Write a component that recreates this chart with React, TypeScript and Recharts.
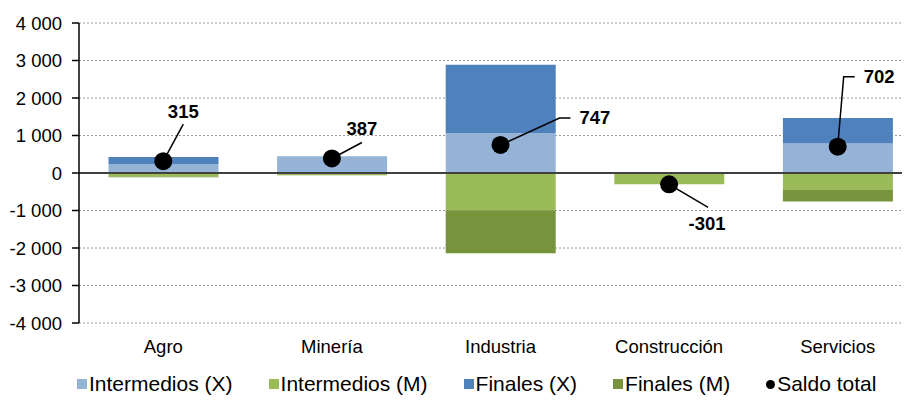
import React from 'react';
import {
  ComposedChart,
  Bar,
  Line,
  XAxis,
  YAxis,
  CartesianGrid,
  ReferenceLine,
  Legend,
  LabelList,
} from 'recharts';

const categories = ['Agro', 'Minería', 'Industria', 'Construcción', 'Servicios'];
const intermediosX = [240, 450, 1060, 0, 790];
const finalesX = [190, 0, 1830, 0, 675];
const intermediosM = [-95, -50, -990, -300, -455];
const finalesM = [-20, -13, -1150, -1, -308];
const saldoTotal = [315, 387, 747, -301, 702];
const yTicks = [-4000, -3000, -2000, -1000, 0, 1000, 2000, 3000, 4000];

const data = categories.map((name, i) => ({
  name,
  intX: intermediosX[i],
  finX: finalesX[i],
  intM: intermediosM[i],
  finM: finalesM[i],
  saldo: saldoTotal[i],
}));

const COLORS = {
  intX: '#95B3D7',
  intM: '#9BBB59',
  finX: '#4F81BD',
  finM: '#77933C',
};

// leader line / label placement relative to each dot
const leaders: { pts: [number, number][]; tx: number; ty: number; anchor: 'start' | 'middle' }[] = [
  { pts: [[20, -37]], tx: 20, ty: -50, anchor: 'middle' },
  { pts: [[30, -16]], tx: 30, ty: -30, anchor: 'middle' },
  { pts: [[59, -27], [70, -27]], tx: 79, ty: -27, anchor: 'start' },
  { pts: [[39, 23]], tx: 38, ty: 39, anchor: 'middle' },
  { pts: [[6, -70], [17, -70]], tx: 26, ty: -70, anchor: 'start' },
];

const fmt = (v: number) => {
  const s = Math.abs(v).toString().replace(/\B(?=(\d{3})+(?!\d))/g, ' ');
  return v < 0 ? '-' + s : s;
};

function SaldoLabel(props: any) {
  const { x, y, value, index } = props;
  const l = leaders[index];
  if (!l) return null;
  const path = [[0, 0], ...l.pts].map((p, k) => `${k ? 'L' : 'M'}${x + p[0]},${y + p[1]}`).join(' ');
  return (
    <g>
      <path d={path} stroke="#000" strokeWidth={1.5} fill="none" />
      <circle cx={x} cy={y} r={9} fill="#000" />
      <text
        x={x + l.tx}
        y={y + l.ty}
        dy="0.35em"
        textAnchor={l.anchor}
        fontSize={18.5}
        fontWeight="bold"
        fill="#000"
      >
        {fmt(value)}
      </text>
    </g>
  );
}

const legendItems = [
  { label: 'Intermedios (X)', color: COLORS.intX },
  { label: 'Intermedios (M)', color: COLORS.intM },
  { label: 'Finales (X)', color: COLORS.finX },
  { label: 'Finales (M)', color: COLORS.finM },
  { label: 'Saldo total', color: '#000', dot: true },
];

function CustomLegend() {
  return (
    <div style={{ display: 'flex', paddingLeft: 77, paddingTop: 9, fontSize: 21, color: '#000', lineHeight: '24px' }}>
      {legendItems.map((it) => (
        <div key={it.label} style={{ display: 'flex', alignItems: 'center', marginRight: 36 }}>
          <span
            style={{
              display: 'inline-block',
              width: it.dot ? 9 : 10,
              height: it.dot ? 9 : 10,
              borderRadius: it.dot ? '50%' : 0,
              background: it.color,
              marginRight: 2,
            }}
          />
          <span>{it.label}</span>
        </div>
      ))}
    </div>
  );
}

export default function App() {
  return (
    <div style={{ margin: -8, width: 910, height: 403, overflow: 'hidden', fontFamily: 'Arial, "Liberation Sans", sans-serif', background: '#fff' }}>
      <ComposedChart
        width={922}
        height={403}
        data={data}
        stackOffset="sign"
        barCategoryGap="17.5%"
        margin={{ top: 23, right: 0, left: 0, bottom: 0 }}
      >
        <CartesianGrid vertical={false} stroke="#9a9a9a" strokeDasharray="2 2" />
        <XAxis
          dataKey="name"
          axisLine={false}
          tickLine={false}
          height={40}
          tickMargin={11}
          tick={{ fontSize: 18.5, fill: '#000' }}
        />
        <YAxis
          width={79}
          domain={[-4000, 4000]}
          ticks={yTicks}
          tickFormatter={fmt}
          axisLine={{ stroke: '#000', strokeWidth: 1.5 }}
          tickLine={{ stroke: '#000', strokeWidth: 1.5 }}
          tickSize={7}
          tickMargin={10}
          tick={{ fontSize: 18.5, fill: '#000' }}
          interval={0}
        />
        <Bar dataKey="intX" stackId="a" fill={COLORS.intX} isAnimationActive={false} />
        <Bar dataKey="finX" stackId="a" fill={COLORS.finX} isAnimationActive={false} />
        <Bar dataKey="intM" stackId="a" fill={COLORS.intM} isAnimationActive={false} />
        <Bar dataKey="finM" stackId="a" fill={COLORS.finM} isAnimationActive={false} />
        <ReferenceLine y={0} stroke="#404040" strokeWidth={2} />
        <Line dataKey="saldo" stroke="none" dot={false} activeDot={false} isAnimationActive={false}>
          <LabelList dataKey="saldo" content={SaldoLabel} />
        </Line>
        <Legend verticalAlign="bottom" height={40} content={CustomLegend} />
      </ComposedChart>
    </div>
  );
}
